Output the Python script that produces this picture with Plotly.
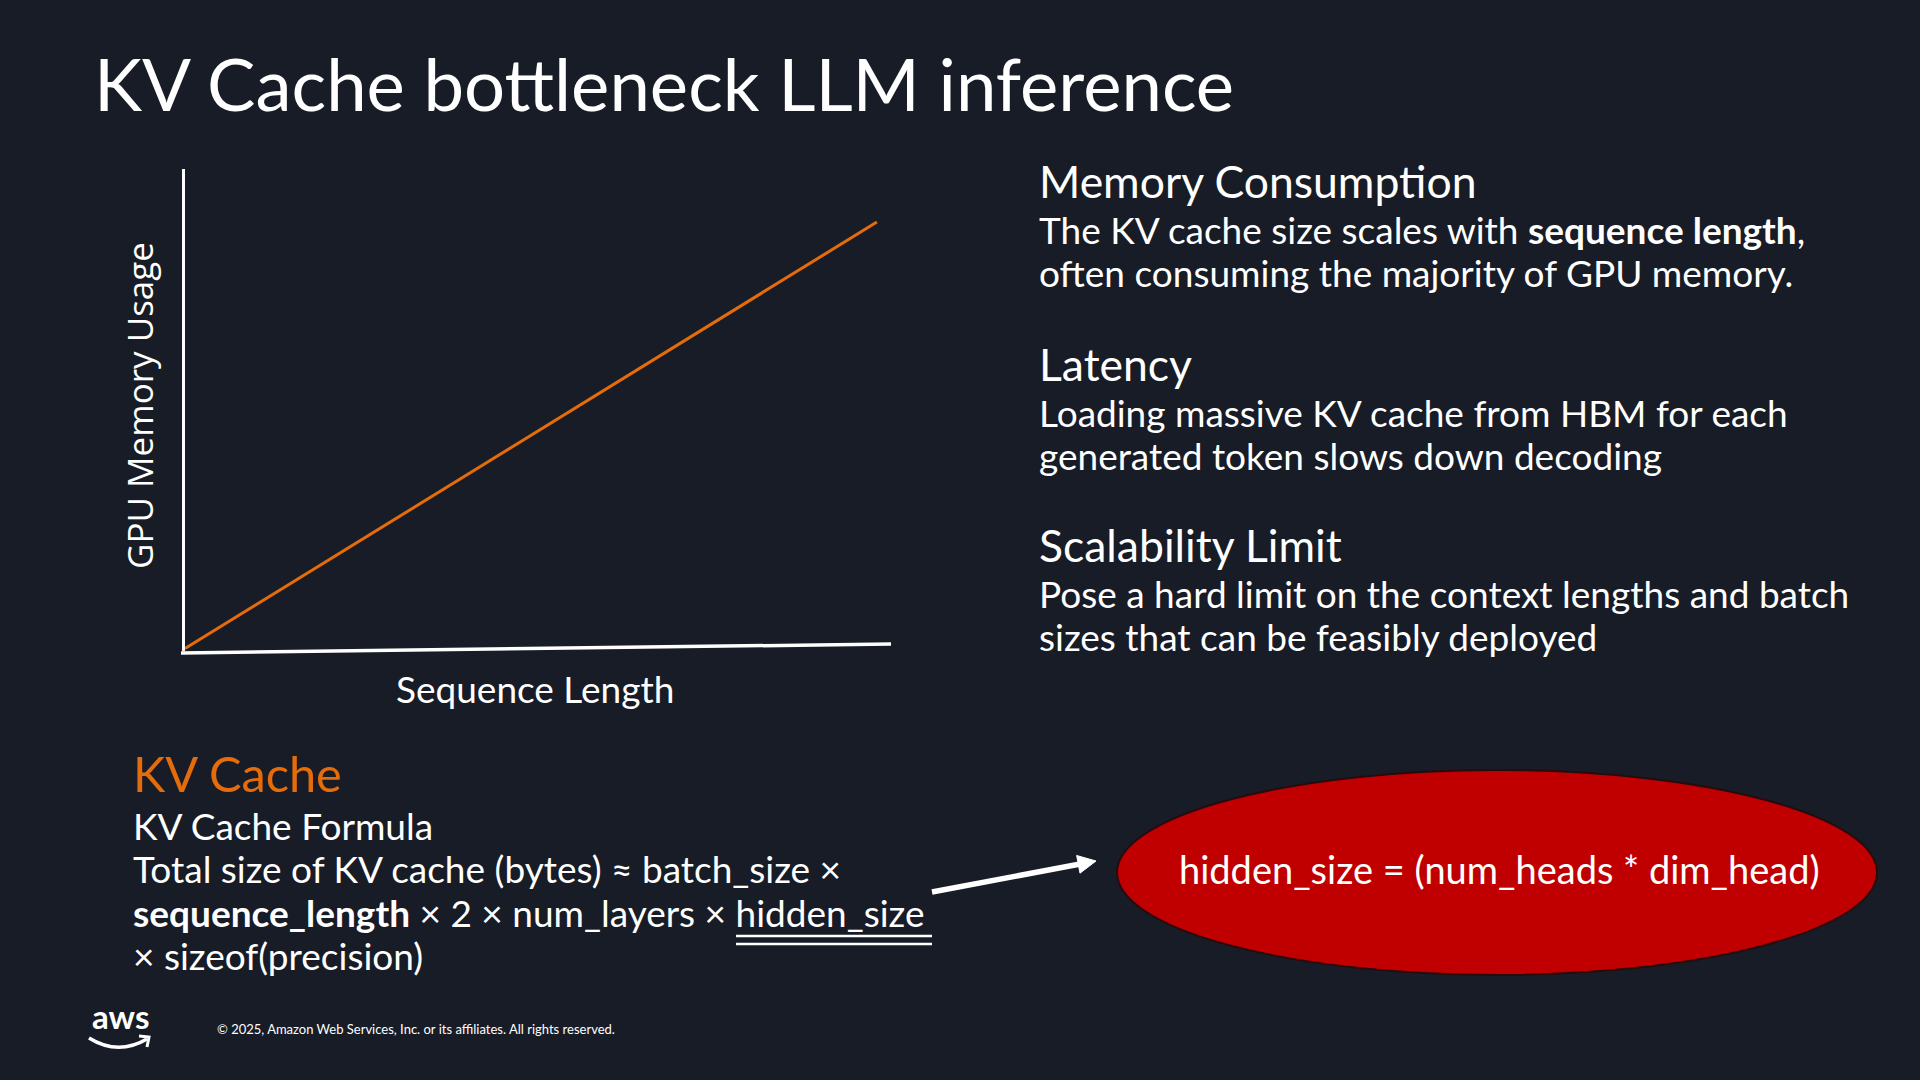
import plotly.graph_objects as go

W, H = 1920, 1080
BG = "#171c26"
ORANGE = "#E46C0A"
WHITE = "#ffffff"
RED = "#C00000"

# ---- chart data (arbitrary units) ----
seq_length = [0, 98]
gpu_memory = [0.5, 89]
x_title = "Sequence Length"
y_title = "GPU Memory Usage"

# ---- slide texts ----
title = "KV Cache bottleneck LLM inference"
right_heads = ["Memory Consumption", "Latency", "Scalability Limit"]
right_bodies = [
    ["The KV cache size scales with <b>sequence length</b>,",
     "often consuming the majority of GPU memory."],
    ["Loading massive KV cache from HBM for each",
     "generated token slows down decoding"],
    ["Pose a hard limit on the context lengths and batch",
     "sizes that can be feasibly deployed"],
]
formula_head = "KV Cache"
formula_lines = [
    "KV Cache Formula",
    "Total size of KV cache (bytes) \u2248 batch_size \u00d7",
    "<b>sequence_length</b> \u00d7 2 \u00d7 num_layers \u00d7 hidden_size",
    "\u00d7 sizeof(precision)",
]
ellipse_text = "hidden_size = (num_heads * dim_head)"
footer = "\u00a9 2025, Amazon Web Services, Inc. or its affiliates. All rights reserved."

FONT = "Lato"
ASC_OFF = 0.387  # baseline to box-centre offset (em)
BODY = 37


def px(x):
    return x / W


def py(y):
    return 1 - y / H


annotations = []


def text(x, baseline, s, size, color=WHITE, family=FONT, xanchor="left", weight="normal"):
    annotations.append(dict(
        text=s, x=px(x), y=py(baseline - ASC_OFF * size), xref="paper", yref="paper",
        xanchor=xanchor, yanchor="middle", showarrow=False,
        font=dict(family=family, size=size, color=color, weight=weight), borderpad=0,
    ))


fig = go.Figure(go.Scatter(
    x=seq_length, y=gpu_memory, mode="lines",
    line=dict(color=ORANGE, width=3), hoverinfo="skip",
))

# title
text(93, 111, title, 72.5)

# right column
head_base = [198, 381, 562]
for hb, head, body in zip(head_base, right_heads, right_bodies):
    text(1038, hb, head, 44.5)
    for i, line in enumerate(body):
        text(1038, hb + 46 + 43 * i, line, BODY)

# axis titles
text(535, 703, x_title, 37, xanchor="center")
annotations.append(dict(
    text=y_title, x=px(139), y=py(406), xref="paper", yref="paper",
    xanchor="center", yanchor="middle", showarrow=False, textangle=-90,
    font=dict(family="Open Sans", size=35, color=WHITE),
))

# formula block
text(132, 792, formula_head, 48.7, color=ORANGE)
for i, line in enumerate(formula_lines):
    text(132, 840 + 43.3 * i, line, BODY)

# ellipse text
text(1499, 884, ellipse_text, 38, xanchor="center")

# footer
text(216, 1034, footer, 13, family="Lato")
text(91, 1029, "aws", 33, family="Lato", weight="bold")

shapes = []
# slanted x axis
shapes.append(dict(type="line", xref="paper", yref="paper",
                   x0=px(181), y0=py(653), x1=px(891), y1=py(644),
                   line=dict(color=WHITE, width=3.5)))
# double underline
for yy in (936, 944):
    shapes.append(dict(type="line", xref="paper", yref="paper",
                       x0=px(736), y0=py(yy), x1=px(932), y1=py(yy),
                       line=dict(color=WHITE, width=2.5)))
# ellipse
shapes.append(dict(type="circle", xref="paper", yref="paper",
                   x0=px(1117), x1=px(1877), y0=py(975), y1=py(770),
                   fillcolor=RED, line=dict(color="#2a0a0e", width=2), layer="below"))
# arrow
tail = (932, 892)
tip = (1096, 861)
dx, dy = tip[0] - tail[0], tip[1] - tail[1]
L = (dx * dx + dy * dy) ** 0.5
ux, uy = dx / L, dy / L
nx, ny = -uy, ux
hl, hw = 18, 9
bx, by = tip[0] - hl * ux, tip[1] - hl * uy
shapes.append(dict(type="line", xref="paper", yref="paper",
                   x0=px(tail[0]), y0=py(tail[1]), x1=px(bx + 2 * ux), y1=py(by + 2 * uy),
                   line=dict(color=WHITE, width=5.5)))
p1 = (bx + hw * nx, by + hw * ny)
p2 = (bx - hw * nx, by - hw * ny)
shapes.append(dict(type="path", xref="paper", yref="paper",
                   path=f"M {px(tip[0])},{py(tip[1])} L {px(p1[0])},{py(p1[1])} L {px(p2[0])},{py(p2[1])} Z",
                   fillcolor=WHITE, line=dict(color=WHITE, width=1)))
# aws smile
shapes.append(dict(type="path", xref="paper", yref="paper",
                   path=f"M {px(89)},{py(1038)} Q {px(118)},{py(1056)} {px(147)},{py(1039)}",
                   line=dict(color=WHITE, width=3.5)))
shapes.append(dict(type="path", xref="paper", yref="paper",
                   path=f"M {px(139)},{py(1036)} L {px(149)},{py(1037)} L {px(147)},{py(1047)}",
                   line=dict(color=WHITE, width=3)))

fig.update_layout(
    width=W, height=H, autosize=False,
    margin=dict(l=0, r=0, t=0, b=0, pad=0),
    paper_bgcolor=BG, plot_bgcolor=BG, showlegend=False,
    xaxis=dict(domain=[px(185), px(891)], range=[0, 100], showgrid=False, zeroline=False,
               showticklabels=False, showline=False, ticks=""),
    yaxis=dict(domain=[py(651), py(169)], range=[0, 100], showgrid=False, zeroline=False,
               showticklabels=False, showline=True, linecolor=WHITE, linewidth=3, ticks=""),
    annotations=annotations, shapes=shapes,
)

fig.write_html("out.html", config={"displayModeBar": False},
               post_script="document.body.style.margin='0';document.body.style.overflow='hidden';")
